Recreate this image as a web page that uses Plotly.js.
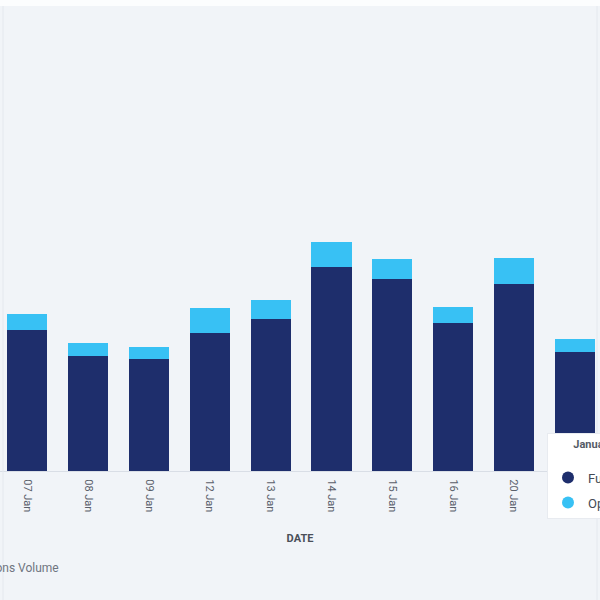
<!DOCTYPE html>
<html>
<head>
<meta charset="utf-8">
<script src="https://cdn.plot.ly/plotly-3.0.1.min.js"></script>
<style>
html,body{margin:0;padding:0;background:#f1f4f8;}
#chart{width:600px;height:600px;}
</style>
</head>
<body>
<div id="chart"></div>
<script>
// Data (heights, arbitrary volume units)
const dates = ["07 Jan","08 Jan","09 Jan","12 Jan","13 Jan","14 Jan","15 Jan","16 Jan","20 Jan","21 Jan"];
const futures = [141, 115, 112, 138, 152, 204, 192, 148, 187, 119];
const options = [16, 13, 12, 25, 19, 25, 20, 16, 26, 13];
const seriesNames = ["Futures", "Options"];
const legendTitle = "January";
const xTitle = "DATE";
const caption = "Futures & Options Volume";

const darkBlue = "#1e2e6c";
const lightBlue = "#38c1f4";

const plotH = 471; // plot area height in px (plot spans y = 0..471)
const py = px => (plotH - px) / plotH; // page px -> paper y

const data = [
  {type:"bar", x:dates, y:futures, name:seriesNames[0], marker:{color:darkBlue}, showlegend:false},
  {type:"bar", x:dates, y:options, name:seriesNames[1], marker:{color:lightBlue}, showlegend:false},
  {type:"scatter", mode:"markers", x:[null], y:[null], name:seriesNames[0], legendgroup:"a", marker:{color:darkBlue, size:13, symbol:"circle"}},
  {type:"scatter", mode:"markers", x:[null], y:[null], name:seriesNames[1], legendgroup:"b", marker:{color:lightBlue, size:13, symbol:"circle"}}
];

const layout = {
  width:600, height:600,
  margin:{l:0, r:0, t:0, b:129, pad:0, autoexpand:false},
  paper_bgcolor:"#f1f4f8",
  plot_bgcolor:"#f1f4f8",
  barmode:"stack",
  bargap:0.342,
  font:{family:"Roboto, 'Open Sans', sans-serif", color:"#555b66"},
  xaxis:{
    type:"category",
    range:[-0.452, 9.416],
    tickangle:90,
    tickfont:{size:11, color:"#5a606b"},
    ticks:"outside", ticklen:5, tickcolor:"rgba(0,0,0,0)",
    showline:true, linecolor:"#d9dee6", linewidth:1,
    showgrid:false, zeroline:false,
    automargin:false,
    title:{text:xTitle, font:{size:11, color:"#4a4f58", family:"Roboto, sans-serif", weight:"bold"}, standoff:22}
  },
  yaxis:{
    range:[0, 471],
    visible:false, showgrid:false, zeroline:false, automargin:false
  },
  showlegend:true,
  legend:{
    x:547/600, xanchor:"left",
    y:py(433), yanchor:"top",
    bgcolor:"#ffffff",
    bordercolor:"#e8ebf0", borderwidth:1,
    font:{size:13, color:"#444a55"},
    title:{text:legendTitle + "<br> ", font:{size:11, color:"#555b66", weight:"bold"}, side:"top center"},
    traceorder:"grouped",
    itemsizing:"constant",
    tracegroupgap:5
  },
  annotations:[
    {xref:"paper", yref:"paper", x:61/600, y:py(568), xanchor:"right", yanchor:"middle",
     text:caption, showarrow:false, font:{size:12, color:"#6f7580"}}
  ],
  shapes:[
    {type:"rect", xref:"paper", yref:"paper", x0:0, x1:1, y0:py(6), y1:py(0), fillcolor:"#ffffff", line:{width:0}, layer:"above", opacity:0.8},
    {type:"line", xref:"paper", yref:"paper", x0:3/600, x1:3/600, y0:py(600), y1:py(6), line:{color:"#e4e8ee", width:1}, layer:"above"},
    {type:"line", xref:"paper", yref:"paper", x0:597/600, x1:597/600, y0:py(600), y1:py(6), line:{color:"#e4e8ee", width:1}, layer:"above"}
  ]
};

Plotly.newPlot("chart", data, layout, {displayModeBar:false, staticPlot:true});
</script>
</body>
</html>
